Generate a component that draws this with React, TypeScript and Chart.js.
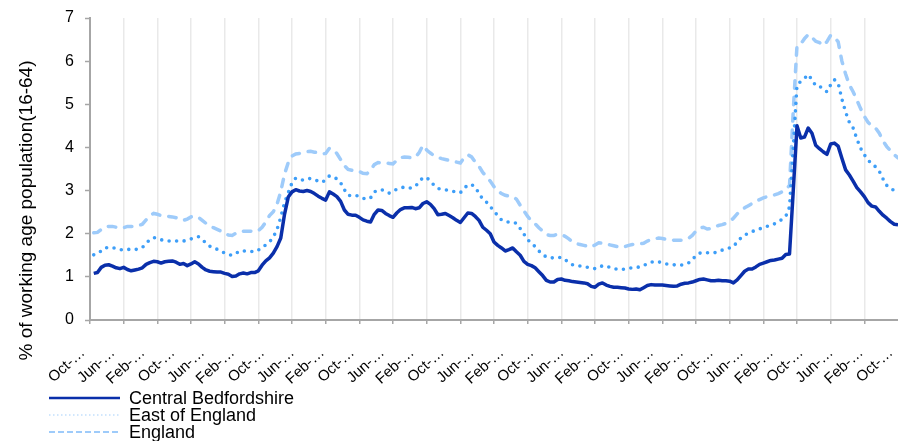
import React, { useEffect, useRef } from 'react';
import { Chart, registerables } from 'chart.js';

Chart.register(...registerables);

const FONT = "'Liberation Sans', Arial, Helvetica, sans-serif";

const MONTH_NAMES = ['Jan', 'Feb', 'Mar', 'Apr', 'May', 'Jun', 'Jul', 'Aug', 'Sep', 'Oct', 'Nov', 'Dec'];
const START_YEAR = 2004;
const START_MONTH_INDEX = 9; // October
const LABEL_EVERY = 8;
const GRID_EVERY = 9;

const SERIES_NAMES = ['Central Bedfordshire', 'East of England', 'England'];
const Y_TITLE = '% of working age population(16-64)';
const Y_MIN = 0;
const Y_MAX = 7;
const Y_STEP = 1;

const CENTRAL_BEDFORDSHIRE = [
  null, 1.08, 1.10, 1.22, 1.27, 1.28, 1.25, 1.21, 1.19, 1.22,
  1.17, 1.14, 1.16, 1.18, 1.21, 1.29, 1.33, 1.36, 1.35, 1.32,
  1.35, 1.36, 1.37, 1.34, 1.29, 1.31, 1.26, 1.30, 1.35, 1.30,
  1.22, 1.16, 1.13, 1.12, 1.11, 1.11, 1.08, 1.06, 1.01, 1.02,
  1.07, 1.09, 1.07, 1.10, 1.10, 1.14, 1.27, 1.37, 1.44, 1.55,
  1.70, 1.90, 2.45, 2.85, 2.97, 3.02, 2.99, 2.98, 3.00, 2.98,
  2.93, 2.87, 2.82, 2.78, 2.97, 2.92, 2.86, 2.75, 2.55, 2.45,
  2.43, 2.43, 2.38, 2.32, 2.29, 2.27, 2.45, 2.55, 2.54, 2.47,
  2.42, 2.38, 2.48, 2.56, 2.60, 2.60, 2.61, 2.58, 2.60, 2.70,
  2.74, 2.68, 2.58, 2.44, 2.45, 2.47, 2.42, 2.37, 2.31, 2.26,
  2.37, 2.48, 2.47, 2.40, 2.31, 2.15, 2.08, 2.00, 1.81, 1.73,
  1.67, 1.60, 1.63, 1.67, 1.58, 1.50, 1.36, 1.29, 1.26, 1.21,
  1.12, 1.03, 0.92, 0.88, 0.88, 0.94, 0.95, 0.92, 0.91, 0.89,
  0.88, 0.87, 0.86, 0.84, 0.78, 0.76, 0.83, 0.86, 0.81, 0.78,
  0.76, 0.76, 0.75, 0.74, 0.72, 0.71, 0.72, 0.70, 0.75, 0.80,
  0.82, 0.81, 0.81, 0.81, 0.80, 0.79, 0.78, 0.79, 0.83, 0.85,
  0.86, 0.88, 0.91, 0.94, 0.95, 0.93, 0.91, 0.91, 0.92, 0.91,
  0.91, 0.90, 0.86, 0.93, 1.03, 1.13, 1.18, 1.18, 1.23, 1.29,
  1.32, 1.35, 1.38, 1.39, 1.41, 1.43, 1.52, 1.53, 3.00, 4.50,
  4.22, 4.24, 4.45, 4.33, 4.05, 3.97, 3.90, 3.84, 4.08, 4.10,
  4.03, 3.75, 3.48, 3.36, 3.22, 3.07, 2.97, 2.86, 2.72, 2.64,
  2.62, 2.52, 2.43, 2.36, 2.28, 2.22, 2.21,
];

const EAST_OF_ENGLAND = [
  null, 1.51, 1.54, 1.60, 1.67, 1.68, 1.68, 1.65, 1.63, 1.63,
  1.64, 1.63, 1.63, 1.65, 1.68, 1.78, 1.86, 1.91, 1.89, 1.86,
  1.84, 1.83, 1.83, 1.83, 1.83, 1.83, 1.85, 1.88, 1.90, 1.93,
  1.86, 1.79, 1.71, 1.66, 1.64, 1.60, 1.55, 1.52, 1.50, 1.54,
  1.60, 1.60, 1.60, 1.59, 1.58, 1.62, 1.68, 1.74, 1.81, 1.92,
  2.10, 2.38, 2.72, 2.95, 3.18, 3.29, 3.26, 3.24, 3.27, 3.28,
  3.25, 3.22, 3.19, 3.25, 3.34, 3.32, 3.27, 3.18, 3.02, 2.89,
  2.88, 2.89, 2.86, 2.82, 2.80, 2.83, 2.97, 3.01, 3.02, 2.98,
  2.94, 2.98, 3.03, 3.06, 3.08, 3.06, 3.06, 3.10, 3.20, 3.30,
  3.30, 3.22, 3.12, 3.05, 3.03, 3.02, 3.00, 2.98, 2.97, 2.95,
  3.05, 3.13, 3.14, 3.08, 2.93, 2.80, 2.73, 2.63, 2.52, 2.42,
  2.32, 2.28, 2.27, 2.27, 2.24, 2.12, 1.99, 1.86, 1.78, 1.70,
  1.60, 1.52, 1.46, 1.44, 1.44, 1.45, 1.45, 1.40, 1.33, 1.28,
  1.26, 1.25, 1.24, 1.22, 1.21, 1.19, 1.21, 1.26, 1.25, 1.22,
  1.20, 1.17, 1.17, 1.18, 1.20, 1.21, 1.22, 1.23, 1.26, 1.31,
  1.34, 1.36, 1.35, 1.32, 1.30, 1.29, 1.28, 1.27, 1.27, 1.29,
  1.32, 1.40, 1.49, 1.55, 1.56, 1.56, 1.56, 1.56, 1.59, 1.62,
  1.64, 1.67, 1.70, 1.81, 1.90, 1.97, 2.01, 2.05, 2.08, 2.11,
  2.15, 2.17, 2.20, 2.23, 2.28, 2.33, 2.40, 2.62, 4.00, 5.45,
  5.53, 5.60, 5.69, 5.57, 5.43, 5.42, 5.36, 5.29, 5.45, 5.57,
  5.49, 5.12, 4.82, 4.58, 4.45, 4.20, 3.98, 3.83, 3.70, 3.63,
  3.55, 3.45, 3.27, 3.12, 3.05, 3.00, 2.97,
];

const ENGLAND = [
  null, 2.02, 2.03, 2.10, 2.16, 2.17, 2.17, 2.15, 2.13, 2.14,
  2.17, 2.17, 2.17, 2.19, 2.22, 2.32, 2.42, 2.47, 2.45, 2.42,
  2.41, 2.40, 2.39, 2.37, 2.34, 2.31, 2.34, 2.39, 2.41, 2.38,
  2.31, 2.24, 2.17, 2.14, 2.10, 2.06, 2.02, 1.97, 1.96, 2.01,
  2.05, 2.06, 2.06, 2.06, 2.05, 2.07, 2.15, 2.27, 2.42, 2.51,
  2.68, 2.98, 3.38, 3.65, 3.80, 3.85, 3.86, 3.87, 3.90, 3.91,
  3.89, 3.88, 3.85, 3.86, 3.98, 3.95, 3.86, 3.72, 3.58, 3.49,
  3.47, 3.47, 3.44, 3.40, 3.39, 3.47, 3.60, 3.65, 3.64, 3.64,
  3.63, 3.62, 3.70, 3.76, 3.78, 3.77, 3.76, 3.77, 3.88, 4.05,
  3.94, 3.87, 3.81, 3.77, 3.74, 3.72, 3.70, 3.68, 3.66, 3.64,
  3.76, 3.83, 3.78, 3.66, 3.56, 3.42, 3.32, 3.22, 3.09, 3.00,
  2.93, 2.89, 2.87, 2.86, 2.80, 2.66, 2.53, 2.40, 2.30, 2.23,
  2.14, 2.06, 1.98, 1.96, 1.96, 1.99, 1.98, 1.94, 1.88, 1.81,
  1.77, 1.75, 1.73, 1.71, 1.69, 1.74, 1.79, 1.78, 1.77, 1.74,
  1.72, 1.70, 1.68, 1.70, 1.73, 1.75, 1.76, 1.77, 1.78, 1.83,
  1.86, 1.88, 1.90, 1.89, 1.87, 1.86, 1.85, 1.85, 1.85, 1.86,
  1.89, 1.96, 2.06, 2.13, 2.15, 2.11, 2.12, 2.16, 2.19, 2.21,
  2.24, 2.28, 2.36, 2.46, 2.54, 2.60, 2.65, 2.70, 2.75, 2.79,
  2.83, 2.86, 2.88, 2.90, 2.93, 2.97, 3.02, 3.12, 4.85, 6.36,
  6.40, 6.52, 6.62, 6.55, 6.46, 6.43, 6.36, 6.45, 6.60, 6.55,
  6.45, 6.00, 5.70, 5.45, 5.29, 5.10, 4.90, 4.72, 4.58, 4.50,
  4.45, 4.33, 4.15, 4.02, 3.92, 3.83, 3.76,
];

const CATEGORIES = CENTRAL_BEDFORDSHIRE.map((_, i) => {
  const m = START_MONTH_INDEX + i;
  const year = START_YEAR + Math.floor(m / 12);
  return `${MONTH_NAMES[m % 12]}-${String(year).slice(2)}`;
});

const SERIES_COLORS = ['#0a2faa', '#3d9ef8', '#9ecbfa'];
const LEGEND_LINES = [
  { color: '#0a2faa', width: 2.5, dash: [] as number[] },
  { color: 'rgba(80,165,250,0.35)', width: 1.5, dash: [1.5, 2.5] },
  { color: '#9ecbfa', width: 2, dash: [6, 3] },
];

const overlayPlugin = {
  id: 'overlayText',
  afterDraw(chart: any) {
    const ctx = chart.ctx as CanvasRenderingContext2D;
    ctx.save();
    ctx.fillStyle = '#000';
    ctx.font = `19px ${FONT}`;
    ctx.textAlign = 'center';
    ctx.textBaseline = 'middle';
    ctx.translate(27, 210.5);
    ctx.rotate(-Math.PI / 2);
    ctx.fillText(Y_TITLE, 0, 0);
    ctx.restore();

    const rows = [398, 415, 432];
    chart.data.datasets.forEach((ds: any, i: number) => {
      const st = LEGEND_LINES[i];
      ctx.save();
      ctx.beginPath();
      ctx.strokeStyle = st.color;
      ctx.lineWidth = st.width;
      ctx.setLineDash(st.dash);
      ctx.moveTo(49, rows[i]);
      ctx.lineTo(120, rows[i]);
      ctx.stroke();
      ctx.setLineDash([]);
      ctx.fillStyle = '#000';
      ctx.font = `18px ${FONT}`;
      ctx.textAlign = 'left';
      ctx.textBaseline = 'alphabetic';
      ctx.fillText(ds.label, 129, rows[i] + 6.3);
      ctx.restore();
    });
  },
};

export default function App() {
  const canvasRef = useRef<HTMLCanvasElement | null>(null);

  useEffect(() => {
    document.body.style.margin = '0';
    const canvas = canvasRef.current;
    if (!canvas) return;
    const n = CATEGORIES.length;
    const chart = new Chart(canvas, {
      type: 'line',
      data: {
        labels: CATEGORIES,
        datasets: [
          {
            label: SERIES_NAMES[0],
            data: CENTRAL_BEDFORDSHIRE,
            borderColor: SERIES_COLORS[0],
            backgroundColor: SERIES_COLORS[0],
            borderWidth: 3.5,
            pointRadius: 0,
            tension: 0,
            borderJoinStyle: 'round',
            fill: false,
          },
          {
            label: SERIES_NAMES[1],
            data: EAST_OF_ENGLAND,
            borderColor: SERIES_COLORS[1],
            backgroundColor: SERIES_COLORS[1],
            borderWidth: 3.6,
            borderDash: [0, 7.5],
            borderCapStyle: 'round',
            pointRadius: 0,
            tension: 0,
            fill: false,
          },
          {
            label: SERIES_NAMES[2],
            data: ENGLAND,
            borderColor: SERIES_COLORS[2],
            backgroundColor: SERIES_COLORS[2],
            borderWidth: 3.5,
            borderDash: [7.5, 9],
            borderCapStyle: 'round',
            pointRadius: 0,
            tension: 0,
            fill: false,
          },
        ],
      },
      options: {
        animation: false,
        responsive: true,
        maintainAspectRatio: false,
        devicePixelRatio: 1,
        layout: { padding: { top: 18, left: 0, right: 0, bottom: 0 } },
        plugins: {
          legend: { display: false },
          tooltip: { enabled: false },
          title: { display: false },
        },
        scales: {
          x: {
            type: 'category',
            offset: false,
            grid: {
              display: true,
              drawOnChartArea: true,
              drawTicks: true,
              tickLength: 4,
              lineWidth: 1.5,
              tickWidth: 1.5,
              color: (c: any) =>
                c.index % GRID_EVERY === 0 && c.index > 0 && c.index < n - 1 ? '#e9e9e9' : 'rgba(0,0,0,0)',
              tickColor: (c: any) =>
                c.index % GRID_EVERY === 0 && c.index < n - 1 ? '#a6a6a6' : 'rgba(0,0,0,0)',
            },
            border: { display: true, color: '#a6a6a6', width: 2 },
            ticks: {
              autoSkip: false,
              minRotation: 42,
              maxRotation: 42,
              padding: 20,
              labelOffset: -7,
              color: '#000',
              font: { size: 15, family: FONT },
              callback: (_v: any, index: number) =>
                index % LABEL_EVERY === 0 ? CATEGORIES[index].slice(0, 4) + '\u2026' : '',
            },
            afterFit: (scale: any) => {
              scale.height = 121;
              scale.paddingLeft = 0;
              scale.paddingRight = 0;
            },
          },
          y: {
            min: Y_MIN,
            max: Y_MAX,
            ticks: {
              stepSize: Y_STEP,
              padding: 11,
              color: '#000',
              font: { size: 16, family: FONT },
            },
            grid: {
              drawOnChartArea: false,
              drawTicks: true,
              tickLength: 5,
              tickWidth: 1.5,
              tickColor: '#a6a6a6',
            },
            border: { display: true, color: '#a6a6a6', width: 2 },
            afterFit: (scale: any) => {
              scale.width = 90;
              scale.paddingTop = 0;
              scale.paddingBottom = 0;
            },
          },
        },
      },
      plugins: [overlayPlugin],
    });
    return () => chart.destroy();
  }, []);

  return (
    <div style={{ position: 'relative', width: 898, height: 441 }}>
      <canvas ref={canvasRef} />
    </div>
  );
}
